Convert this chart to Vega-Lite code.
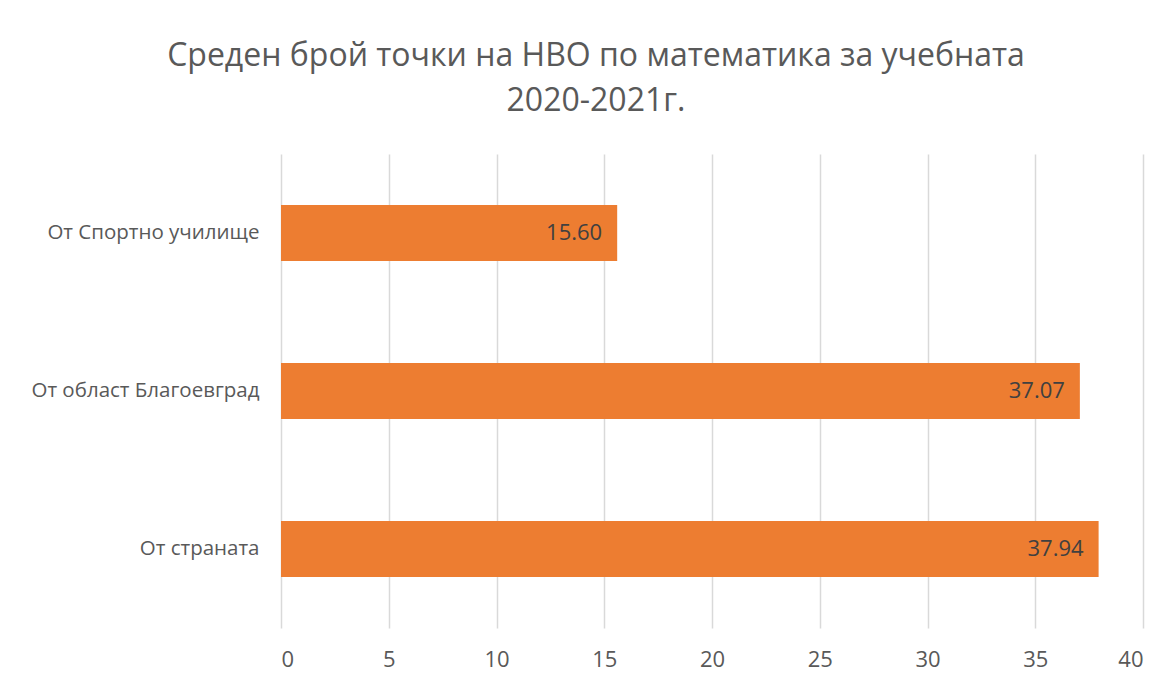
{
  "$schema": "https://vega.github.io/schema/vega-lite/v6.json",
  "autosize": "none",
  "width": 862,
  "height": 474,
  "padding": {"left": 281, "top": 154, "right": 30, "bottom": 56},
  "background": "white",
  "title": {
    "text": ["Среден брой точки на НВО по математика за учебната", "2020-2021г."],
    "font": "Open Sans",
    "fontSize": 32,
    "fontWeight": "normal",
    "color": "#595959",
    "anchor": "middle",
    "dx": -116,
    "offset": 36,
    "lineHeight": 45
  },
  "config": {
    "view": {"stroke": null},
    "axis": {"labelFont": "Open Sans", "labelColor": "#595959", "domain": false, "ticks": false}
  },
  "data": {
    "values": [
      {"category": "От Спортно училище", "value": 15.60},
      {"category": "От област Благоевград", "value": 37.07},
      {"category": "От страната", "value": 37.94}
    ]
  },
  "encoding": {
    "y": {
      "field": "category",
      "type": "nominal",
      "sort": null,
      "scale": {"paddingInner": 0.646, "paddingOuter": 0.323},
      "axis": {"title": null, "labelFontSize": 20.5, "labelPadding": 22, "labelLimit": 300, "grid": false}
    },
    "x": {
      "field": "value",
      "type": "quantitative",
      "scale": {"domain": [0, 40], "nice": false},
      "axis": {
        "title": null,
        "values": [0, 5, 10, 15, 20, 25, 30, 35, 40],
        "labelFontSize": 22,
        "labelPadding": 21,
        "grid": true,
        "gridColor": "#D9D9D9",
        "gridWidth": 1.5
      }
    }
  },
  "layer": [
    {"mark": {"type": "bar", "color": "#ED7D31"}},
    {
      "mark": {"type": "text", "align": "right", "baseline": "middle", "dx": -15, "font": "Open Sans", "fontSize": 22, "color": "#404040"},
      "encoding": {"text": {"field": "value", "type": "quantitative", "format": ".2f"}}
    }
  ]
}
